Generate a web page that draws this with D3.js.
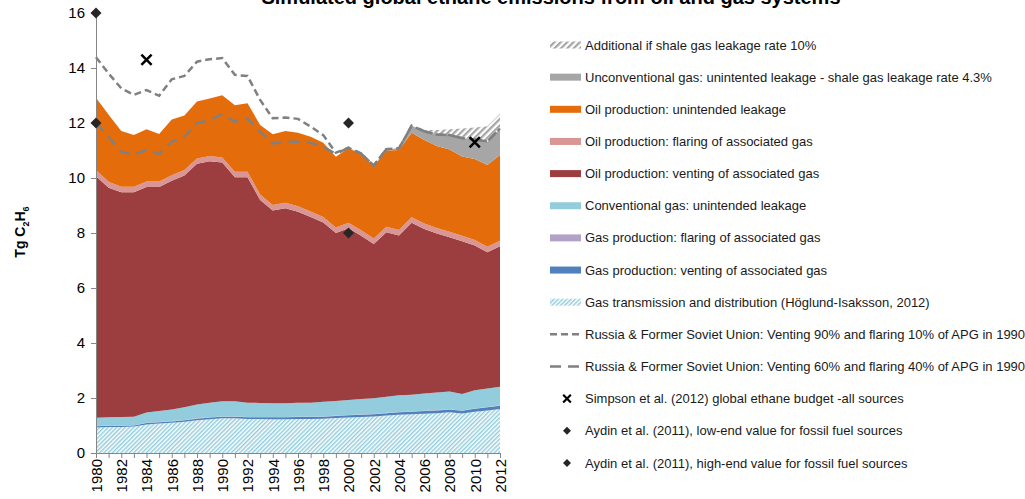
<!DOCTYPE html>
<html>
<head>
<meta charset="utf-8">
<script src="https://cdn.jsdelivr.net/npm/d3@7"></script>
<style>
  body { margin: 0; background: #fff; }
  svg { display: block; font-family: "Liberation Sans", Arial, sans-serif; }
</style>
</head>
<body>
<svg id="chart" width="1025" height="499"></svg>
<script>
// years on the x axis
const years = [1980, 1981, 1982, 1983, 1984, 1985, 1986, 1987, 1988, 1989,
  1990, 1991, 1992, 1993, 1994, 1995, 1996, 1997, 1998, 1999,
  2000, 2001, 2002, 2003, 2004, 2005, 2006, 2007, 2008, 2009,
  2010, 2011, 2012];

// stacked series, bottom to top (Tg C2H6)
const gasTransmission = [0.93, 0.95, 0.95, 0.96, 1.04, 1.07, 1.10, 1.14, 1.19, 1.23,
  1.26, 1.26, 1.24, 1.24, 1.23, 1.23, 1.24, 1.24, 1.25, 1.27,
  1.29, 1.31, 1.33, 1.36, 1.39, 1.41, 1.43, 1.45, 1.48, 1.44,
  1.50, 1.55, 1.60];
const gasVenting = [0.04, 0.04, 0.04, 0.04, 0.05, 0.05, 0.05, 0.05, 0.06, 0.06,
  0.06, 0.06, 0.06, 0.06, 0.07, 0.07, 0.07, 0.07, 0.07, 0.08,
  0.08, 0.08, 0.08, 0.09, 0.09, 0.09, 0.10, 0.10, 0.10, 0.10,
  0.11, 0.11, 0.12];
const gasFlaring = [0.01, 0.01, 0.01, 0.01, 0.01, 0.01, 0.01, 0.01, 0.01, 0.01,
  0.01, 0.01, 0.01, 0.01, 0.01, 0.01, 0.01, 0.01, 0.01, 0.01,
  0.01, 0.01, 0.01, 0.01, 0.01, 0.01, 0.01, 0.01, 0.01, 0.01,
  0.01, 0.01, 0.01];
const convLeakage = [0.30, 0.30, 0.31, 0.31, 0.37, 0.40, 0.42, 0.46, 0.50, 0.53,
  0.55, 0.55, 0.52, 0.51, 0.50, 0.50, 0.51, 0.51, 0.53, 0.53,
  0.55, 0.56, 0.57, 0.59, 0.61, 0.61, 0.62, 0.64, 0.65, 0.60,
  0.66, 0.68, 0.68];
const oilVenting = [8.78, 8.35, 8.17, 8.16, 8.20, 8.14, 8.32, 8.43, 8.76, 8.78,
  8.68, 8.15, 8.20, 7.38, 7.01, 7.09, 6.94, 6.75, 6.52, 6.11,
  6.24, 5.94, 5.61, 5.98, 5.81, 6.25, 5.99, 5.78, 5.61, 5.55,
  5.27, 4.95, 5.11];
const oilFlaring = [0.22, 0.21, 0.20, 0.20, 0.20, 0.20, 0.20, 0.20, 0.19, 0.19,
  0.19, 0.20, 0.20, 0.20, 0.20, 0.20, 0.20, 0.20, 0.20, 0.20,
  0.20, 0.20, 0.20, 0.20, 0.20, 0.20, 0.20, 0.20, 0.20, 0.20,
  0.20, 0.20, 0.20];
const oilLeakage = [2.64, 2.44, 2.03, 1.88, 1.90, 1.73, 2.03, 1.98, 2.07, 2.09,
  2.26, 2.42, 2.49, 2.53, 2.57, 2.61, 2.68, 2.72, 2.70, 2.57,
  2.71, 2.77, 2.63, 2.77, 2.91, 3.08, 3.03, 2.98, 2.99, 2.88,
  2.94, 2.97, 3.12];
const unconvLeakage = [0, 0, 0, 0, 0, 0, 0, 0, 0, 0,
  0, 0, 0, 0, 0, 0, 0, 0, 0, 0,
  0.02, 0.02, 0.02, 0.05, 0.06, 0.25, 0.32, 0.42, 0.52, 0.67,
  0.71, 0.86, 0.96];
const shale10 = [0, 0, 0, 0, 0, 0, 0, 0, 0, 0,
  0, 0, 0, 0, 0, 0, 0, 0, 0, 0,
  0, 0, 0, 0, 0, 0, 0.05, 0.17, 0.21, 0.35,
  0.44, 0.55, 0.55];

// Russia & FSU scenario lines
const russia90 = [14.39, 13.80, 13.26, 13.02, 13.20, 12.99, 13.59, 13.71, 14.23, 14.32,
  14.36, 13.75, 13.71, 12.84, 12.17, 12.20, 12.15, 11.87, 11.56, 10.92,
  11.10, 10.89, 10.45, 11.05, 11.08, 11.90, 11.70, 11.58, 11.56, 11.45,
  11.40, 11.33, 11.80];
const russia60 = [12.00, 11.50, 10.96, 10.84, 11.02, 10.87, 11.32, 11.50, 11.99, 12.11,
  12.32, 12.05, 12.17, 11.68, 11.26, 11.32, 11.32, 11.28, 11.14, 10.87,
  11.10, 10.89, 10.45, 11.05, 11.08, 11.90, 11.70, 11.58, 11.56, 11.45,
  11.40, 11.33, 11.80];

// observational estimates
const simpsonYears = [1984, 2010];
const simpsonValues = [14.3, 11.3];
const aydinLowYears = [1980, 2000];
const aydinLowValues = [12, 8];
const aydinHighYears = [1980, 2000];
const aydinHighValues = [16, 12];

const yTicks = [0, 2, 4, 6, 8, 10, 12, 14, 16];

const keys = ['gasTransmission', 'gasVenting', 'gasFlaring', 'convLeakage',
  'oilVenting', 'oilFlaring', 'oilLeakage', 'unconvLeakage', 'shale10'];
const seriesData = { gasTransmission, gasVenting, gasFlaring, convLeakage,
  oilVenting, oilFlaring, oilLeakage, unconvLeakage, shale10 };
const fills = {
  gasTransmission: 'url(#hatchBlue)',
  gasVenting: '#4f81bd',
  gasFlaring: '#b3a2c7',
  convLeakage: '#93cddd',
  oilVenting: '#9c3d3f',
  oilFlaring: '#d99694',
  oilLeakage: '#e46c0a',
  unconvLeakage: '#a6a6a6',
  shale10: 'url(#hatchGray)'
};

const table = years.map((yr, i) => {
  const row = { year: yr };
  keys.forEach(k => { row[k] = seriesData[k][i]; });
  return row;
});

const svg = d3.select('#chart');

// hatch patterns
const defs = svg.append('defs');
function hatch(id, color, w) {
  const p = defs.append('pattern')
    .attr('id', id)
    .attr('patternUnits', 'userSpaceOnUse')
    .attr('width', w)
    .attr('height', w)
    .attr('patternTransform', 'rotate(45)');
  p.append('rect').attr('width', w).attr('height', w).attr('fill', '#fff');
  p.append('rect').attr('width', w / 2).attr('height', w).attr('fill', color);
}
hatch('hatchBlue', '#93cddd', 3);
hatch('hatchGray', '#a6a6a6', 4.5);

const x = d3.scaleLinear().domain([1980, 2012]).range([96, 500]);
const y = d3.scaleLinear().domain([0, 16]).range([453, 13]);

const stacked = d3.stack().keys(keys)(table);

const area = d3.area()
  .x(d => x(d.data.year))
  .y0(d => y(d[0]))
  .y1(d => y(d[1]));

svg.append('g').selectAll('path')
  .data(stacked).enter()
  .append('path')
  .attr('d', area)
  .attr('fill', d => fills[d.key]);

// scenario lines
const line = d3.line()
  .x((d, i) => x(years[i]))
  .y(d => y(d));

svg.append('path')
  .datum(russia60)
  .attr('d', line)
  .attr('fill', 'none')
  .attr('stroke', '#808080')
  .attr('stroke-width', 2.5)
  .attr('stroke-dasharray', '11,7');

svg.append('path')
  .datum(russia90)
  .attr('d', line)
  .attr('fill', 'none')
  .attr('stroke', '#808080')
  .attr('stroke-width', 2.5)
  .attr('stroke-dasharray', '7,4');

// axes
const xAxis = svg.append('g')
  .attr('transform', `translate(0, ${y(0)})`)
  .call(d3.axisBottom(x)
    .tickValues(years)
    .tickSize(5)
    .tickFormat(d => (d % 2 === 0 ? d : '')));
xAxis.selectAll('text')
  .attr('transform', 'rotate(-90)')
  .attr('x', -6)
  .attr('y', 0)
  .attr('dy', '0.35em')
  .style('text-anchor', 'end')
  .style('font-size', '15px')
  .attr('fill', '#000');

const yAxis = svg.append('g')
  .attr('transform', `translate(${x(1980)}, 0)`)
  .call(d3.axisLeft(y).tickValues(yTicks).tickSize(5).tickPadding(6));
yAxis.selectAll('text')
  .style('font-size', '15px')
  .attr('fill', '#000');

[xAxis, yAxis].forEach(a => {
  a.select('.domain').attr('stroke', '#868686');
  a.selectAll('.tick line').attr('stroke', '#868686');
});

// markers
const xSym = d3.symbol().type(d3.symbolX);
const diamond = d3.symbol().type(d3.symbolSquare);

function diamonds(yrs, vals, size) {
  svg.append('g').selectAll('path')
    .data(yrs).enter()
    .append('path')
    .attr('d', diamond.size(size)())
    .attr('transform', (d, i) => `translate(${x(d)}, ${y(vals[i])}) rotate(45)`)
    .attr('fill', '#262626');
}
diamonds(aydinLowYears, aydinLowValues, 60);
diamonds(aydinHighYears, aydinHighValues, 60);

svg.append('g').selectAll('path')
  .data(simpsonYears).enter()
  .append('path')
  .attr('d', xSym.size(70)())
  .attr('transform', (d, i) => `translate(${x(d)}, ${y(simpsonValues[i])})`)
  .attr('fill', 'none')
  .attr('stroke', '#000')
  .attr('stroke-width', 2.5);

// title (clipped at the top edge, as in the original)
svg.append('text')
  .attr('x', 551)
  .attr('y', 3.5)
  .attr('text-anchor', 'middle')
  .style('font-size', '20px')
  .style('font-weight', 'bold')
  .text('Simulated global ethane emissions from oil and gas systems');

// y axis title
const yTitle = svg.append('text')
  .attr('transform', 'translate(25, 232) rotate(-90)')
  .attr('text-anchor', 'middle')
  .style('font-size', '14px')
  .style('font-weight', 'bold');
yTitle.append('tspan').text('Tg C');
yTitle.append('tspan').attr('dy', 4).style('font-size', '9px').text('2');
yTitle.append('tspan').attr('dy', -4).text('H');
yTitle.append('tspan').attr('dy', 4).style('font-size', '9px').text('6');

// legend
const legendItems = [
  { label: 'Additional if shale gas leakage rate 10%', type: 'rect', fill: 'url(#hatchGray)' },
  { label: 'Unconventional gas: unintented leakage - shale gas leakage rate 4.3%', type: 'rect', fill: '#a6a6a6' },
  { label: 'Oil production: unintended leakage', type: 'rect', fill: '#e46c0a' },
  { label: 'Oil production: flaring of associated gas', type: 'rect', fill: '#d99694' },
  { label: 'Oil production: venting of associated gas', type: 'rect', fill: '#9c3d3f' },
  { label: 'Conventional gas: unintended leakage', type: 'rect', fill: '#93cddd' },
  { label: 'Gas production: flaring of associated gas', type: 'rect', fill: '#b3a2c7' },
  { label: 'Gas production: venting of associated gas', type: 'rect', fill: '#4f81bd' },
  { label: 'Gas transmission and distribution (Höglund-Isaksson, 2012)', type: 'rect', fill: 'url(#hatchBlue)' },
  { label: 'Russia & Former Soviet Union: Venting 90% and flaring 10% of APG in 1990', type: 'line', dash: '7,4' },
  { label: 'Russia & Former Soviet Union: Venting 60% and flaring 40% of APG in 1990', type: 'line', dash: '11,7' },
  { label: 'Simpson et al. (2012) global ethane budget -all sources', type: 'x' },
  { label: 'Aydin et al. (2011), low-end value for fossil fuel sources', type: 'diamond' },
  { label: 'Aydin et al. (2011), high-end value for fossil fuel sources', type: 'diamond' }
];

const legend = svg.append('g').selectAll('g')
  .data(legendItems).enter()
  .append('g')
  .attr('transform', (d, i) => `translate(550, ${45 + i * 32.15})`);

legend.filter(d => d.type === 'rect').append('rect')
  .attr('x', 0).attr('y', -3.5)
  .attr('width', 31).attr('height', 7)
  .attr('fill', d => d.fill);

legend.filter(d => d.type === 'line').append('line')
  .attr('x1', 0).attr('x2', 31)
  .attr('stroke', '#808080')
  .attr('stroke-width', 2.5)
  .attr('stroke-dasharray', d => d.dash);

legend.filter(d => d.type === 'x').append('path')
  .attr('d', xSym.size(40)())
  .attr('transform', 'translate(17, 0)')
  .attr('fill', 'none')
  .attr('stroke', '#000')
  .attr('stroke-width', 2.2);

legend.filter(d => d.type === 'diamond').append('path')
  .attr('d', diamond.size(32)())
  .attr('transform', 'translate(17, 0) rotate(45)')
  .attr('fill', '#262626');

legend.append('text')
  .attr('x', 35)
  .attr('dy', '0.35em')
  .style('font-size', '13px')
  .attr('fill', '#1a1a1a')
  .text(d => d.label);
</script>
</body>
</html>
